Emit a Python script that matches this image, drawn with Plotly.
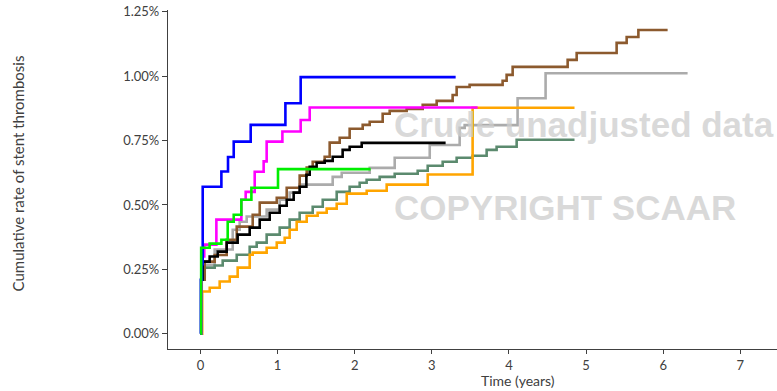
import plotly.graph_objects as go

# Cumulative stent thrombosis rate (%) over time (years), step curves
years_ticks = [0, 1, 2, 3, 4, 5, 6, 7]
pct_ticks = [0.00, 0.25, 0.50, 0.75, 1.00, 1.25]
pct_labels = ["0.00%", "0.25%", "0.50%", "0.75%", "1.00%", "1.25%"]

gray_t = [0, 0.017, 0.056, 0.185, 0.419, 0.509, 0.600, 0.859, 1.028, 1.157, 1.287,
          1.715, 1.832, 2.195, 2.519, 2.973, 3.361, 3.426, 4.112, 4.475, 6.316]
gray_v = [0, 0.210, 0.268, 0.327, 0.404, 0.435, 0.455, 0.482, 0.520, 0.548, 0.579,
          0.609, 0.625, 0.644, 0.683, 0.733, 0.799, 0.810, 0.914, 1.011, 1.011]

dkgreen_t = [0, 0.017, 0.185, 0.289, 0.471, 0.639, 0.730, 0.859, 1.028, 1.157, 1.287,
             1.456, 1.586, 1.767, 1.935, 2.065, 2.155, 2.324, 2.519, 2.817, 2.947,
             3.141, 3.322, 3.529, 3.711, 3.840, 4.100, 4.850]
dkgreen_v = [0, 0.257, 0.265, 0.284, 0.307, 0.338, 0.354, 0.385, 0.412, 0.443, 0.470,
             0.493, 0.520, 0.551, 0.571, 0.586, 0.598, 0.609, 0.621, 0.633, 0.652,
             0.668, 0.683, 0.691, 0.714, 0.726, 0.753, 0.753]

brown_t = [0, 0.017, 0.056, 0.185, 0.341, 0.471, 0.678, 0.769, 0.990, 1.119, 1.287,
           1.378, 1.456, 1.611, 1.676, 1.806, 1.935, 2.104, 2.195, 2.363, 2.454,
           2.674, 2.882, 3.063, 3.270, 3.322, 3.490, 3.918, 3.970, 4.048, 4.761,
           4.878, 5.396, 5.526, 5.678, 6.057]
brown_v = [0, 0.210, 0.280, 0.306, 0.365, 0.416, 0.462, 0.509, 0.528, 0.567, 0.614,
           0.645, 0.668, 0.687, 0.742, 0.761, 0.796, 0.811, 0.823, 0.854, 0.865,
           0.873, 0.889, 0.904, 0.927, 0.958, 0.966, 0.982, 1.005, 1.036, 1.063,
           1.090, 1.129, 1.152, 1.179, 1.179]

orange_t = [0, 0.023, 0.121, 0.250, 0.380, 0.483, 0.639, 0.678, 0.859, 0.990, 1.093,
            1.157, 1.248, 1.378, 1.520, 1.637, 1.767, 1.897, 2.156, 2.415, 2.947,
            3.529, 4.850]
orange_v = [0, 0.164, 0.179, 0.203, 0.222, 0.257, 0.307, 0.315, 0.334, 0.354, 0.373,
            0.404, 0.435, 0.458, 0.470, 0.486, 0.505, 0.544, 0.555, 0.579, 0.618,
            0.877, 0.877]

black_t = [0, 0.017, 0.030, 0.120, 0.224, 0.341, 0.483, 0.639, 0.769, 0.898, 1.028,
           1.119, 1.209, 1.287, 1.374, 1.417, 1.507, 1.611, 1.715, 1.844, 1.935,
           2.091, 3.179]
black_v = [0, 0.210, 0.280, 0.300, 0.319, 0.354, 0.385, 0.412, 0.443, 0.470, 0.497,
           0.520, 0.548, 0.571, 0.617, 0.648, 0.664, 0.671, 0.687, 0.714, 0.726,
           0.741, 0.741]

magenta_t = [0, 0.015, 0.050, 0.207, 0.531, 0.587, 0.704, 0.820, 0.859, 1.063, 1.300,
             1.417, 3.594]
magenta_v = [0, 0.300, 0.346, 0.443, 0.520, 0.551, 0.629, 0.669, 0.746, 0.785, 0.830,
             0.878, 0.878]

blue_t = [0, 0.005, 0.020, 0.030, 0.272, 0.358, 0.432, 0.652, 1.102, 1.300, 3.309]
blue_v = [0, 0.210, 0.270, 0.571, 0.630, 0.686, 0.746, 0.811, 0.895, 0.996, 0.996]

green_t = [0, 0.010, 0.120, 0.272, 0.354, 0.432, 0.531, 0.661, 1.006, 2.207]
green_v = [0, 0.334, 0.350, 0.365, 0.435, 0.462, 0.520, 0.567, 0.639, 0.639]

series = [
    (gray_t, gray_v, "#ababab"),
    (dkgreen_t, dkgreen_v, "#5b8a6e"),
    (brown_t, brown_v, "#8c5a2e"),
    (orange_t, orange_v, "#ffa500"),
    (black_t, black_v, "#000000"),
    (magenta_t, magenta_v, "#ff00ff"),
    (blue_t, blue_v, "#0000ff"),
    (green_t, green_v, "#00ee00"),
]

fig = go.Figure()
for t, v, color in series:
    fig.add_trace(go.Scatter(
        x=t, y=v, mode="lines",
        line=dict(shape="hv", color=color, width=2.6),
        hoverinfo="skip", showlegend=False,
    ))

axis_color = "#404040"
font_family = "Lato, 'Open Sans', sans-serif"

fig.update_layout(
    width=777, height=391,
    margin=dict(l=168, r=0, t=10, b=41.5),
    paper_bgcolor="white", plot_bgcolor="white",
    showlegend=False,
    font=dict(family=font_family, color=axis_color, size=13),
    xaxis=dict(
        range=[-0.42, 7.475],
        tickmode="array", tickvals=years_ticks,
        ticks="outside", ticklen=4, tickwidth=1.3, tickcolor=axis_color,
        showline=True, linecolor=axis_color, linewidth=1.3,
        showgrid=False, zeroline=False,
        tickfont=dict(size=13, color=axis_color),
    ),
    yaxis=dict(
        range=[-0.0589, 1.2566],
        tickmode="array", tickvals=pct_ticks, ticktext=pct_labels,
        ticks="outside", ticklen=5, tickwidth=1.3, tickcolor=axis_color,
        showline=True, linecolor=axis_color, linewidth=1.3,
        showgrid=False, zeroline=False,
        tickfont=dict(size=13, color=axis_color),
    ),
)

# Axis titles
fig.add_annotation(
    text="Time (years)", xref="paper", yref="paper",
    x=0.574, y=-0.1222, xanchor="center", yanchor="bottom",
    borderpad=0,
    showarrow=False, font=dict(size=14, color=axis_color, family=font_family),
)
fig.add_annotation(
    text="Cumulative rate of stent thrombosis", xref="paper", yref="paper",
    x=-0.2463, y=0.518, xanchor="center", yanchor="middle", textangle=-90,
    showarrow=False, font=dict(size=15, color=axis_color, family=font_family),
)

# Watermark text
wm_font = dict(family="'Liberation Sans', Arial, sans-serif", size=35,
               color="rgba(205,205,205,0.75)")
fig.add_annotation(
    text="<b>Crude unadjusted data</b>", xref="x", yref="y",
    x=2.49, y=0.813, xanchor="left", yanchor="middle",
    showarrow=False, font=wm_font,
)
fig.add_annotation(
    text="<b>COPYRIGHT SCAAR</b>", xref="x", yref="y",
    x=2.49, y=0.491, xanchor="left", yanchor="middle",
    showarrow=False, font=wm_font,
)

fig.write_html("out.html")
